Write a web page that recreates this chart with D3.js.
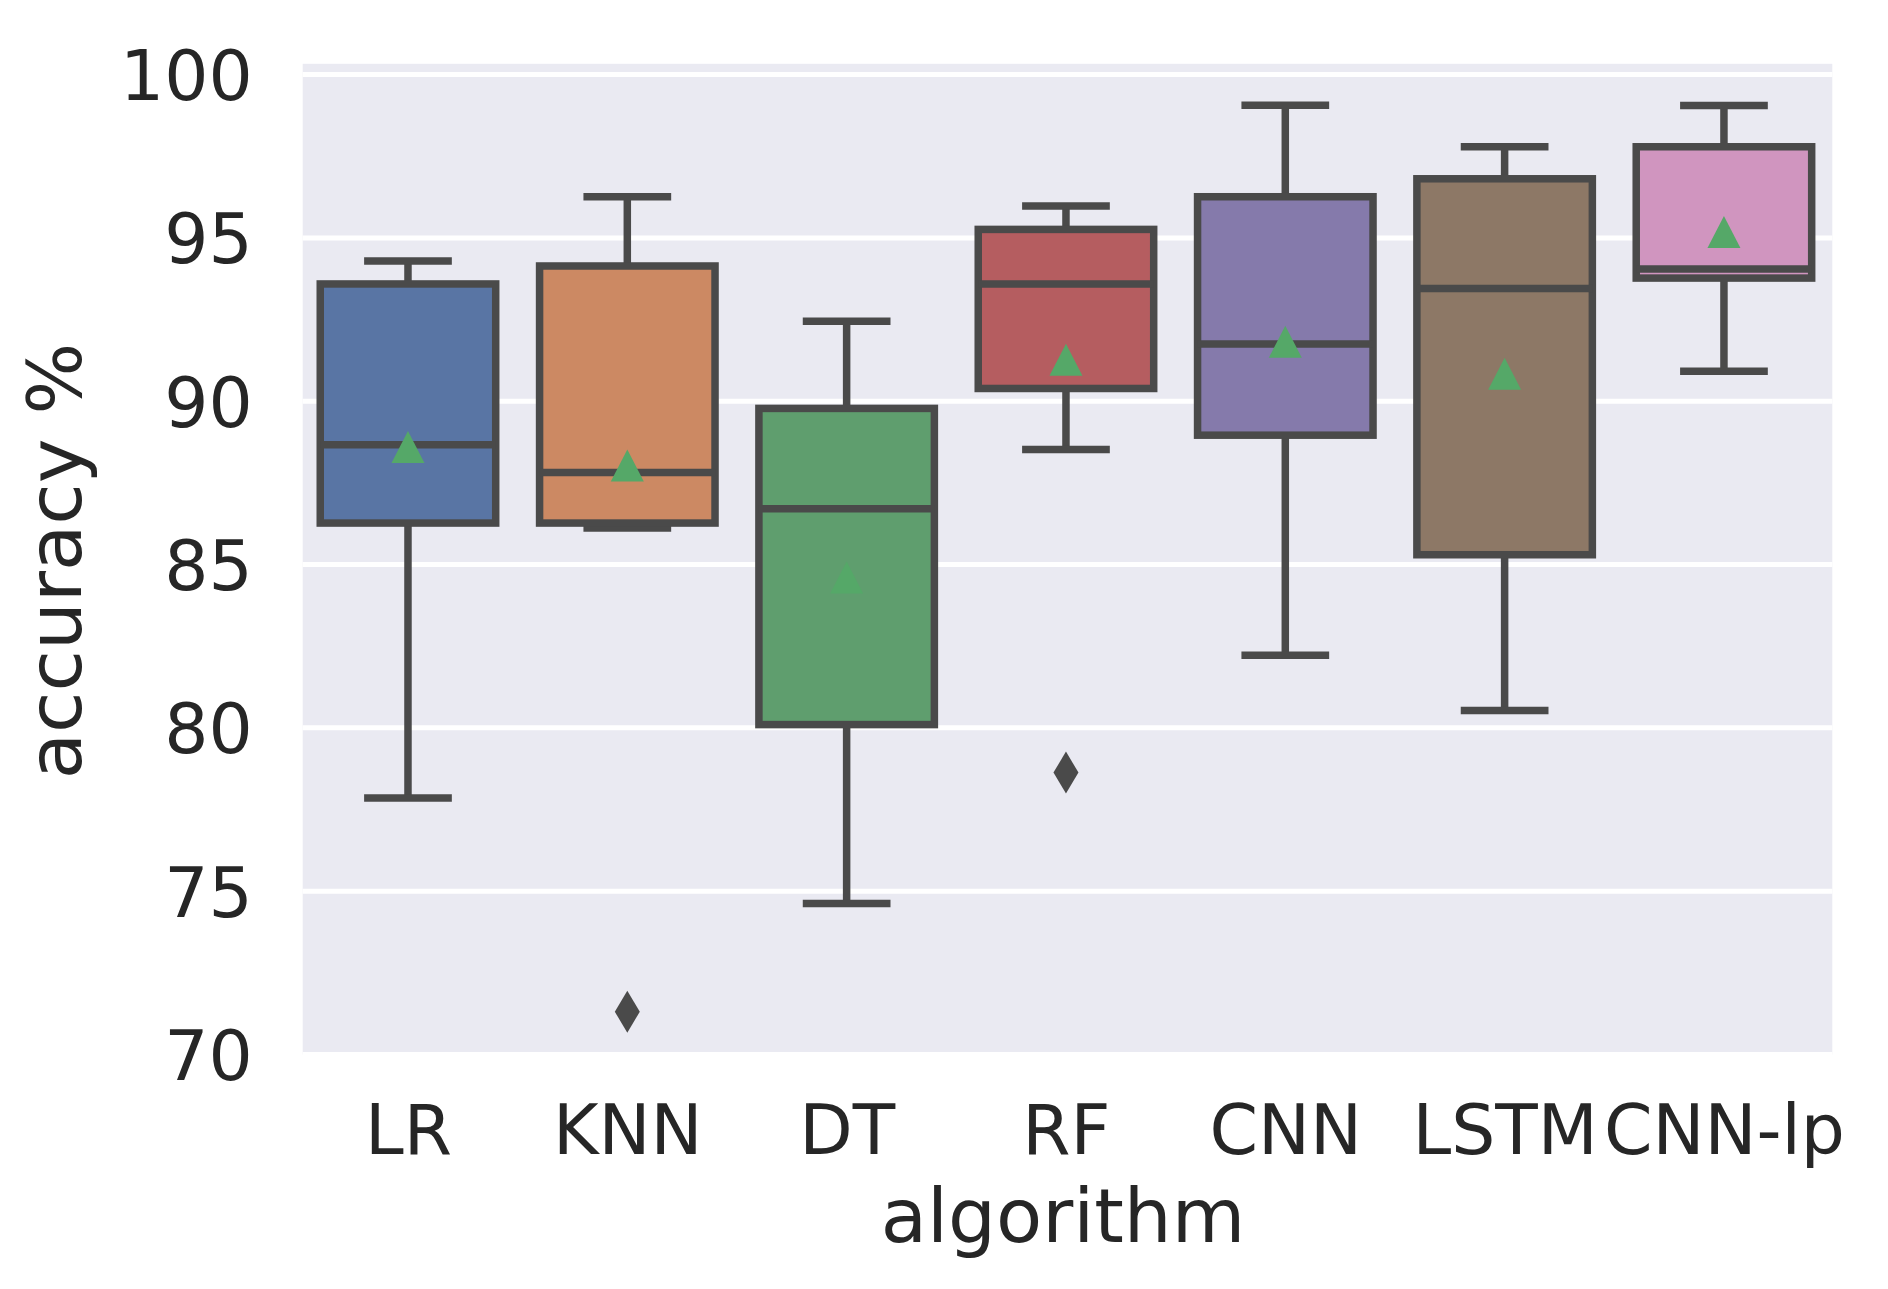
<!DOCTYPE html>
<meta charset="utf-8">
<title>accuracy by algorithm</title>
<style>
  body { margin: 0; background: #fff; }
  text { font-family: "DejaVu Sans", sans-serif; fill: #262626; }
</style>
<body>
<script src="https://cdn.jsdelivr.net/npm/d3@7"></script>
<script>

// values
var categories = ["LR", "KNN", "DT", "RF", "CNN", "LSTM", "CNN-lp"];
var whiskerLow  = [77.85, 86.12, 74.62, 88.52, 82.22, 80.53, 90.92];
var q1          = [86.27, 86.27, 80.10, 90.39, 88.96, 85.30, 93.77];
var median      = [88.67, 87.82, 86.71, 93.59, 91.75, 93.45, 94.05];
var q3          = [93.59, 94.14, 89.78, 95.26, 96.26, 96.81, 97.79];
var whiskerHigh = [94.29, 96.26, 92.45, 95.98, 99.06, 97.79, 99.05];
var means       = [88.60, 88.03, 84.60, 91.27, 91.82, 90.84, 95.18];
var outliers    = [[], [71.31], [], [78.63], [], [], []];
var yTicks      = [70, 75, 80, 85, 90, 95, 100];
var colors = ["#5975a4", "#cc8963", "#5f9e6e", "#b55d60", "#857aab", "#8d7866", "#d095bf"];

var width = 1888;
var height = 1289;
// note: "top" is a reserved window property, so use plot* names
var plotLeft = 302.7, plotRight = 1832.3, plotTop = 63.8, plotBottom = 1054.5;
var lineColor = "#4a4a4a";
var lw = 7.5;
var tickFont = "69.5px";
var labelFont = "75.5px";

var svg = d3.select("body")
      .append("svg")
      .attr("width", width)
      .attr("height", height);

var x = d3.scaleLinear().domain([-0.48, 6.494]).range([plotLeft, plotRight]);
var y = d3.scaleLinear().domain([70, 100.33]).range([plotBottom, plotTop]);

var band = x(1) - x(0);
var boxW = band * 0.8;
var capW = boxW * 0.5 - lw;

// background and grid
svg.append("rect")
  .attr("x", plotLeft).attr("y", plotTop)
  .attr("width", plotRight - plotLeft).attr("height", plotBottom - plotTop)
  .attr("fill", "#eaeaf2");

svg.append("g")
  .selectAll("line")
  .data(yTicks)
  .enter().append("line")
  .attr("x1", plotLeft).attr("x2", plotRight)
  .attr("y1", function(d) { return y(d); })
  .attr("y2", function(d) { return y(d); })
  .attr("stroke", "#fff")
  .attr("stroke-width", 5);

var idx = d3.range(categories.length);
var g = svg.append("g");

// whiskers
g.selectAll(".wlo").data(idx).enter().append("line")
  .attr("x1", function(i) { return x(i); }).attr("x2", function(i) { return x(i); })
  .attr("y1", function(i) { return y(q1[i]); })
  .attr("y2", function(i) { return y(whiskerLow[i]); })
  .attr("stroke", lineColor).attr("stroke-width", lw);

g.selectAll(".whi").data(idx).enter().append("line")
  .attr("x1", function(i) { return x(i); }).attr("x2", function(i) { return x(i); })
  .attr("y1", function(i) { return y(q3[i]); })
  .attr("y2", function(i) { return y(whiskerHigh[i]); })
  .attr("stroke", lineColor).attr("stroke-width", lw);

// caps
[whiskerLow, whiskerHigh].forEach(function(arr) {
  g.selectAll(null).data(idx).enter().append("line")
    .attr("x1", function(i) { return x(i) - capW / 2; })
    .attr("x2", function(i) { return x(i) + capW / 2; })
    .attr("y1", function(i) { return y(arr[i]); })
    .attr("y2", function(i) { return y(arr[i]); })
    .attr("stroke", lineColor).attr("stroke-width", lw)
    .attr("stroke-linecap", "square");
});

// boxes
g.selectAll(".box").data(idx).enter().append("rect")
  .attr("x", function(i) { return x(i) - boxW / 2; })
  .attr("y", function(i) { return y(q3[i]); })
  .attr("width", boxW)
  .attr("height", function(i) { return y(q1[i]) - y(q3[i]); })
  .attr("fill", function(i) { return colors[i]; })
  .attr("stroke", lineColor).attr("stroke-width", lw);

g.selectAll(".median").data(idx).enter().append("line")
  .attr("x1", function(i) { return x(i) - boxW / 2; })
  .attr("x2", function(i) { return x(i) + boxW / 2; })
  .attr("y1", function(i) { return y(median[i]); })
  .attr("y2", function(i) { return y(median[i]); })
  .attr("stroke", lineColor).attr("stroke-width", lw);

// outliers (thin diamonds)
var flierData = [];
outliers.forEach(function(list, i) {
  list.forEach(function(v) { flierData.push({i: i, v: v}); });
});
g.selectAll(".flier").data(flierData).enter().append("path")
  .attr("d", "M0,-21L12.5,0L0,21L-12.5,0Z")
  .attr("transform", function(d) { return "translate(" + x(d.i) + "," + y(d.v) + ")"; })
  .attr("fill", lineColor);

// mean markers
g.selectAll(".mean").data(idx).enter().append("path")
  .attr("d", "M0,-16L16.5,16L-16.5,16Z")
  .attr("transform", function(i) { return "translate(" + x(i) + "," + y(means[i]) + ")"; })
  .attr("fill", "#55a868");

// axes
var yAxis = svg.append("g")
  .attr("transform", "translate(" + plotLeft + ",0)")
  .call(d3.axisLeft(y).tickValues(yTicks).tickSize(0).tickPadding(50));
yAxis.select(".domain").remove();
yAxis.selectAll("text")
  .attr("dy", "0.36em")
  .style("font-size", tickFont)
  .style("font-family", "DejaVu Sans")
  .attr("fill", "#262626");

var xAxis = svg.append("g")
  .attr("transform", "translate(0," + plotBottom + ")")
  .call(d3.axisBottom(x).tickValues(idx).tickSize(0).tickPadding(50)
    .tickFormat(function(i) { return categories[i]; }));
xAxis.select(".domain").remove();
xAxis.selectAll("text")
  .style("font-size", tickFont)
  .style("font-family", "DejaVu Sans")
  .attr("fill", "#262626");

svg.append("text")
  .attr("x", 1063)
  .attr("y", 1242)
  .attr("text-anchor", "middle")
  .style("font-size", labelFont)
  .text("algorithm");

svg.append("text")
  .attr("transform", "translate(81,561) rotate(-90)")
  .attr("text-anchor", "middle")
  .style("font-size", labelFont)
  .text("accuracy %");

</script>
